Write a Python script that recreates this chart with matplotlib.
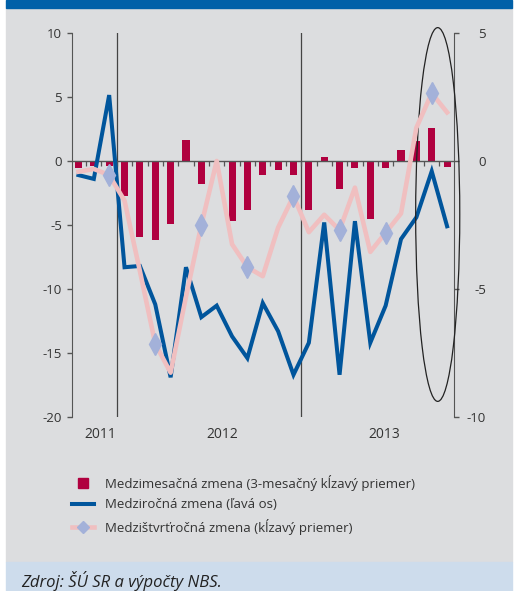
import numpy as np
import matplotlib.pyplot as plt
from matplotlib.patches import Rectangle, Ellipse
from matplotlib.lines import Line2D
from matplotlib.transforms import blended_transform_factory

plt.rcParams['font.family'] = ['Open Sans', 'DejaVu Sans']
plt.rcParams['axes.unicode_minus'] = False

# months: 10/2011 .. 10/2013
months = ['10/11', '11/11', '12/11',
          '1/12', '2/12', '3/12', '4/12', '5/12', '6/12', '7/12', '8/12', '9/12', '10/12', '11/12', '12/12',
          '1/13', '2/13', '3/13', '4/13', '5/13', '6/13', '7/13', '8/13', '9/13', '10/13']

# medzimesacna zmena (3-m. klzavy priemer), right axis
mom = [-0.29, -0.2, -0.2, -1.37, -2.98, -3.1, -2.47, 0.82, -0.9, 0.0, -2.35, -1.92, -0.53,
       -0.34, -0.53, -1.9, 0.16, -1.1, -0.28, -2.28, -0.28, 0.43, 0.8, 1.27, -0.24]
# medzirocna zmena, left axis
yoy = [-1.1, -1.4, 5.15, -8.3, -8.2, -11.2, -16.9, -8.3, -12.2, -11.3, -13.7, -15.4, -11.1,
       -13.3, -16.7, -14.2, -4.8, -16.7, -4.7, -14.2, -11.3, -6.1, -4.4, -0.8, -5.1]
# medzistvrtrocna zmena (klzavy priemer), right axis
qoq = [-0.42, -0.31, -0.55, -1.55, -4.3, -7.14, -8.27, -5.3, -2.5, 0.0, -3.25, -4.15, -4.5,
       -2.6, -1.37, -2.78, -2.1, -2.7, -1.04, -3.55, -2.8, -2.05, 1.3, 2.65, 1.9]

years = ['2011', '2012', '2013']
labels = ['Medzimesačná zmena (3-mesačný kĺzavý priemer)',
          'Medziročná zmena (ľavá os)',
          'Medzištvrťročná zmena (kĺzavý priemer)']

c_bar = '#b0003f'
c_blue = '#00559c'
c_pink = '#f0bfc0'
c_dia = '#a3b1d9'
c_axis = '#555555'
c_text = '#333333'

W, H = 517, 591
fig = plt.figure(figsize=(W / 100, H / 100), dpi=100)
fig.patch.set_facecolor('white')
fig.patches.append(Rectangle((6 / W, 29 / H), 506 / W, (H - 8 - 29) / H, transform=fig.transFigure,
                             color='#dcdddf', zorder=-10))
fig.patches.append(Rectangle((6 / W, 1 - 8 / H), 506 / W, 8 / H, transform=fig.transFigure,
                             color='#0060a8', zorder=-10))
fig.patches.append(Rectangle((6 / W, 0), 506 / W, 29 / H, transform=fig.transFigure,
                             color='#cddcec', zorder=-10))

x = np.arange(len(months))
rect = [72 / W, 1 - 417 / H, 382 / W, 384 / H]

ax = fig.add_axes(rect)      # bars, right scale
axl = ax.twinx()             # blue line, left scale
axp = ax.twinx()             # pink line, right scale (drawn on top)
ax.set_facecolor('none')

# bars on the right scale
ax.bar(x, mom, width=0.46, color=c_bar, zorder=2)
ax.set_ylim(-10, 5)
ax.set_xlim(-0.42, 24.45)
ax.set_yticks([-10, -5, 0, 5])
ax.yaxis.tick_right()
ax.set_xticks([])
for s in ['top', 'bottom', 'left']:
    ax.spines[s].set_visible(False)
ax.spines['right'].set_color(c_axis)
ax.tick_params(axis='y', direction='out', length=3.6, width=1, color=c_axis,
               labelsize=9.5, labelcolor=c_text, pad=19.5)
for t in ax.yaxis.get_major_ticks():
    t.label2.set_horizontalalignment('right')

# zero line, month ticks, year separators
ax.axhline(0, color=c_axis, lw=1, zorder=3)
ax.vlines(x[:-1] + 0.5, -0.2, 0, color=c_axis, lw=0.9, zorder=3)
ax.axvline(2.5, color='#444444', lw=0.9, zorder=1)
ax.axvline(14.5, color='#444444', lw=0.9, zorder=1)

# blue line on the left scale
axl.yaxis.tick_left()
axl.set_ylim(-20, 10)
axl.set_yticks([-20, -15, -10, -5, 0, 5, 10])
for s in ['top', 'bottom', 'right']:
    axl.spines[s].set_visible(False)
axl.spines['left'].set_color(c_axis)
axl.tick_params(axis='y', direction='out', length=3.6, width=1, color=c_axis,
                labelsize=9.5, labelcolor=c_text, pad=3.5)
axl.plot(x, yoy, color=c_blue, lw=2.9, solid_joinstyle='miter')

# pink line on the right scale
axp.set_ylim(-10, 5)
axp.axis('off')
axp.plot(x, qoq, color=c_pink, lw=3.3, marker='d', markevery=list(range(2, len(x), 3)),
         ms=11, mfc=c_dia, mec=c_dia)
axp.add_patch(Ellipse((23.39, -2.09), 2.87, 14.6, fill=False, ec='#222222', lw=0.9, clip_on=False))

# year labels
tr = blended_transform_factory(ax.transData, fig.transFigure)
for xp, yr in zip([1.4, 9.33, 19.9], years):
    fig.text(xp, 1 - 435 / H, yr, transform=tr, ha='center', va='center', fontsize=10, color=c_text)

handles = [Line2D([], [], ls='none', marker='s', ms=6.5, color=c_bar),
           Line2D([], [], color=c_blue, lw=2.9),
           Line2D([], [], color=c_pink, lw=3.3, marker='D', ms=6, mfc=c_dia, mec=c_dia)]
fig.legend(handles, labels, loc='upper left', bbox_to_anchor=(72 / W, 1 - 475 / H), frameon=False,
           fontsize=9.5, handlelength=1.7, handletextpad=0.8, labelspacing=0.55,
           borderaxespad=0, borderpad=0, labelcolor=c_text)

fig.text(21 / W, 1 - 581 / H, 'Zdroj: ŠÚ SR a výpočty NBS.', style='italic', fontsize=12,
         va='center', ha='left', color='#222222')

fig.savefig('out.png', dpi=100)
